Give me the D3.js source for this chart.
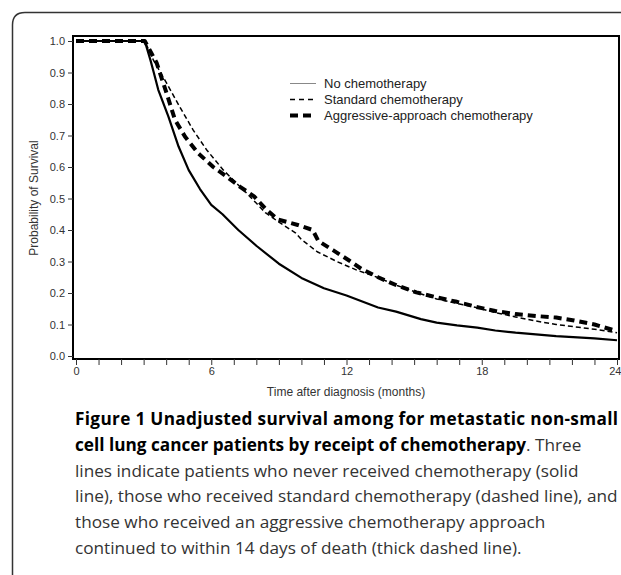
<!DOCTYPE html>
<html>
<head>
<meta charset="utf-8">
<script src="https://cdn.jsdelivr.net/npm/d3@7"></script>
<style>
  body { margin: 0; background: #fff; }
  svg { display: block; }
</style>
</head>
<body>
<svg id="chart" width="621" height="575"></svg>
<script>
// ---- data ----
const seriesNames = ["No chemotherapy", "Standard chemotherapy", "Aggressive-approach chemotherapy"];

const noChemoMonths = [0, 3.05, 3.3, 3.45, 3.65, 4.1, 4.55, 5.0, 5.5, 6.0, 6.5, 7.2, 8.0, 9.0, 10.0, 11.0, 12.0, 13.4, 14.2, 15.3, 16.0, 16.9, 17.8, 18.6, 19.5, 21.3, 23.0, 24.0];
const noChemoSurv   = [1, 1, 0.94, 0.9, 0.845, 0.76, 0.665, 0.59, 0.53, 0.48, 0.45, 0.40, 0.35, 0.293, 0.248, 0.215, 0.192, 0.154, 0.141, 0.117, 0.106, 0.097, 0.09, 0.081, 0.074, 0.063, 0.056, 0.05];

const standardMonths = [0, 3.05, 3.43, 4.02, 4.61, 5.2, 5.8, 6.54, 7.13, 7.72, 8.4, 9.0, 9.75, 10.0, 10.7, 11.6, 12.48, 13.36, 14.24, 15.1, 16.0, 16.9, 17.75, 18.6, 19.5, 20.4, 21.3, 22.1, 23.0, 24.0];
const standardSurv   = [1, 1, 0.94, 0.866, 0.79, 0.717, 0.654, 0.59, 0.548, 0.506, 0.455, 0.425, 0.39, 0.37, 0.331, 0.299, 0.272, 0.25, 0.224, 0.202, 0.181, 0.167, 0.154, 0.138, 0.124, 0.111, 0.10, 0.093, 0.085, 0.074];

const aggressiveMonths = [0, 3.05, 3.28, 3.58, 4.02, 4.39, 4.84, 5.43, 6.09, 6.69, 7.28, 7.9, 8.44, 8.96, 9.4, 9.84, 10.5, 10.75, 11.4, 12.1, 12.65, 13.4, 14.24, 15.1, 16.0, 16.9, 17.75, 18.6, 19.5, 20.4, 21.3, 22.1, 23.0, 23.8];
const aggressiveSurv   = [1, 1, 0.97, 0.93, 0.834, 0.75, 0.696, 0.643, 0.60, 0.569, 0.537, 0.507, 0.465, 0.433, 0.425, 0.416, 0.40, 0.365, 0.336, 0.304, 0.277, 0.25, 0.224, 0.202, 0.186, 0.172, 0.156, 0.143, 0.133, 0.127, 0.122, 0.113, 0.10, 0.083];

const yTickValues = [0, 0.1, 0.2, 0.3, 0.4, 0.5, 0.6, 0.7, 0.8, 0.9, 1.0];
const xLabelValues = [0, 6, 12, 18, 24];
const xMinorValues = d3.range(0, 25, 1);

const axisTitleX = "Time after diagnosis (months)";
const axisTitleY = "Probability of Survival";

const captionLines = [
  [{t: "Figure 1 Unadjusted survival among for metastatic non-small", b: true}],
  [{t: "cell lung cancer patients by receipt of chemotherapy", b: true}, {t: ". Three", b: false}],
  [{t: "lines indicate patients who never received chemotherapy (solid", b: false}],
  [{t: "line), those who received standard chemotherapy (dashed line), and", b: false}],
  [{t: "those who received an aggressive chemotherapy approach", b: false}],
  [{t: "continued to within 14 days of death (thick dashed line).", b: false}]
];

// ---- layout ----
const svg = d3.select("#chart");
const frame = {left: 73, right: 619, top: 36, bottom: 359};
const x = d3.scaleLinear().domain([0, 24]).range([76, 617]);
const y = d3.scaleLinear().domain([0, 1]).range([356, 41]);

const axisFont = "'Liberation Sans', Arial, sans-serif";
const axisColor = "#333";

// outer rounded box
svg.append("path")
  .attr("d", "M12.5,580 L12.5,25 Q12.5,12.5 25,12.5 L630,12.5")
  .attr("fill", "none").attr("stroke", "#333").attr("stroke-width", 1.5);

// series
const seriesData = [
  {months: noChemoMonths, surv: noChemoSurv, width: 2.2, dash: null},
  {months: standardMonths, surv: standardSurv, width: 1.5, dash: "5,3"},
  {months: aggressiveMonths, surv: aggressiveSurv, width: 4, dash: "8,5"}
];
const line = d3.line().x(d => x(d[0])).y(d => y(d[1]));
const clipId = "plotclip";
svg.append("clipPath").attr("id", clipId).append("rect")
  .attr("x", frame.left).attr("y", frame.top)
  .attr("width", frame.right - frame.left).attr("height", frame.bottom - frame.top);
const plotG = svg.append("g").attr("clip-path", `url(#${clipId})`);
seriesData.forEach(s => {
  const pts = s.months.map((m, i) => [m, s.surv[i]]);
  plotG.append("path").datum(pts)
    .attr("d", line)
    .attr("fill", "none")
    .attr("stroke", "#000")
    .attr("stroke-width", s.width)
    .attr("stroke-linejoin", "round")
    .attr("stroke-dasharray", s.dash);
});

// frame
svg.append("rect")
  .attr("x", frame.left).attr("y", frame.top)
  .attr("width", frame.right - frame.left).attr("height", frame.bottom - frame.top)
  .attr("fill", "none").attr("stroke", "#000").attr("stroke-width", 2);

// y axis
const yAxis = d3.axisLeft(y).tickValues(yTickValues).tickFormat(d3.format(".1f")).tickSize(5).tickPadding(3);
const yg = svg.append("g").attr("transform", `translate(${frame.left},0)`).call(yAxis);
yg.select(".domain").remove();
yg.selectAll("line").attr("stroke", axisColor);
yg.selectAll("text").attr("font-family", axisFont).attr("font-size", 11).attr("fill", axisColor);

// x axis minor ticks + labels
const xAxis = d3.axisBottom(x).tickValues(xMinorValues)
  .tickFormat(d => xLabelValues.includes(d) ? String(d) : "")
  .tickSize(6).tickPadding(2);
const xg = svg.append("g").attr("transform", `translate(0,${frame.bottom})`).call(xAxis);
xg.select(".domain").remove();
xg.selectAll("line").attr("stroke", axisColor);
xg.selectAll("text").attr("font-family", axisFont).attr("font-size", 11).attr("fill", axisColor);
// last label sits against the right edge in the reference; keep it inside the page
xg.selectAll(".tick").filter(d => d === 24).select("text")
  .attr("text-anchor", "end").attr("dx", 4);

// axis titles
svg.append("text").attr("x", 346).attr("y", 396).attr("text-anchor", "middle")
  .attr("font-family", axisFont).attr("font-size", 12).attr("fill", axisColor).text(axisTitleX);
svg.append("text").attr("transform", "translate(38,198) rotate(-90)").attr("text-anchor", "middle")
  .attr("font-family", axisFont).attr("font-size", 12).attr("fill", axisColor).text(axisTitleY);

// legend
const legendStyles = [
  {stroke: "#888", width: 1, dash: null},
  {stroke: "#000", width: 1.6, dash: "5,4"},
  {stroke: "#000", width: 4, dash: "8,5"}
];
const legendY = [83.5, 99.5, 115.5];
seriesNames.forEach((name, i) => {
  svg.append("line").attr("x1", 290).attr("x2", 316).attr("y1", legendY[i]).attr("y2", legendY[i])
    .attr("stroke", legendStyles[i].stroke).attr("stroke-width", legendStyles[i].width)
    .attr("stroke-dasharray", legendStyles[i].dash);
  svg.append("text").attr("x", 324).attr("y", legendY[i]).attr("dy", "0.35em")
    .attr("font-family", axisFont).attr("font-size", 13).attr("fill", "#222").text(name);
});

// caption
const capFont = "'Open Sans', 'Noto Sans', sans-serif";
const capG = svg.append("g");
let fs = 16;
const capTexts = captionLines.map((parts, i) => {
  const t = capG.append("text").attr("x", 75).attr("y", 425 + i * 25.8)
    .attr("font-family", capFont).attr("font-size", fs);
  parts.forEach(p => {
    t.append("tspan").attr("font-weight", p.b ? "bold" : "normal")
      .attr("fill", p.b ? "#000" : "#333").text(p.t);
  });
  return t;
});
// fit caption font so the longest plain line spans the text column (75..618)
const w = capTexts[3].node().getComputedTextLength();
fs = fs * 543 / w;
capTexts.forEach(t => t.attr("font-size", fs));
// first line is justified to the full column in the reference
capTexts[0].attr("textLength", 543).attr("lengthAdjust", "spacing");
</script>
</body>
</html>
